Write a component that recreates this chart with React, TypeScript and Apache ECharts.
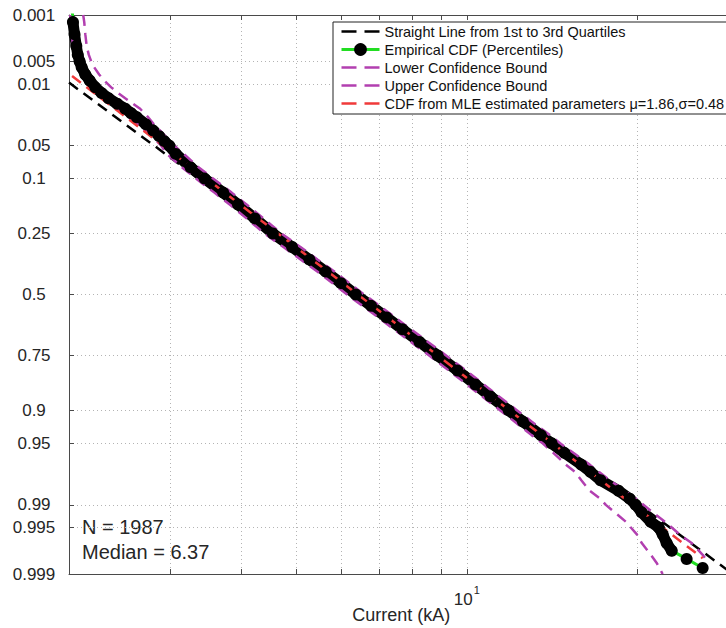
import React, { useEffect, useRef } from "react";
import * as echarts from "echarts";

// ---------------- data ----------------
const yTickProbs = [0.001, 0.005, 0.01, 0.05, 0.1, 0.25, 0.5, 0.75, 0.9, 0.95, 0.99, 0.995, 0.999];
const yTickLabels = ["0.001", "0.005", "0.01", "0.05", "0.1", "0.25", "0.5", "0.75", "0.9", "0.95", "0.99", "0.995", "0.999"];
const xGridCurrents = [3, 4, 5, 6, 7, 8, 9, 10, 20];
const xLabelCurrents = [10];
const xRange = [1.99, 29.5];

const empiricalProb = [0.00075, 0.0013, 0.002, 0.003, 0.004, 0.005, 0.006, 0.0075, 0.009, 0.011, 0.013, 0.015, 0.0175, 0.02, 0.0225, 0.025, 0.03, 0.035, 0.04, 0.045, 0.05, 0.06, 0.08, 0.1, 0.13, 0.16, 0.2, 0.25, 0.3, 0.35, 0.4, 0.45, 0.5, 0.55, 0.6, 0.65, 0.7, 0.75, 0.8, 0.84, 0.87, 0.9, 0.92, 0.94, 0.95, 0.96, 0.97, 0.975, 0.98, 0.985, 0.988, 0.99, 0.992, 0.994, 0.995, 0.996, 0.997, 0.99769, 0.99827, 0.99875];
const empiricalCurrent = [2.015, 2.022, 2.035, 2.05, 2.062, 2.078, 2.095, 2.126, 2.164, 2.214, 2.273, 2.336, 2.42, 2.5, 2.56, 2.62, 2.72, 2.8, 2.87, 2.93, 2.99, 3.07, 3.26, 3.45, 3.72, 3.95, 4.23, 4.55, 4.92, 5.28, 5.64, 6.0, 6.37, 6.78, 7.22, 7.7, 8.25, 8.88, 9.63, 10.35, 11.0, 11.85, 12.55, 13.5, 14.1, 14.85, 15.9, 16.5, 17.2, 18.5, 19.36, 19.84, 20.32, 21.08, 21.78, 22.13, 22.49, 22.96, 24.39, 26.03];

const lowerProb = [0.001, 0.0013, 0.002, 0.003, 0.004, 0.005, 0.006, 0.0075, 0.009, 0.011, 0.013, 0.015, 0.0175, 0.02, 0.0225, 0.025, 0.03, 0.035, 0.04, 0.045, 0.05, 0.06, 0.08, 0.1, 0.13, 0.16, 0.2, 0.25, 0.3, 0.35, 0.4, 0.45, 0.5, 0.55, 0.6, 0.65, 0.7, 0.75, 0.8, 0.84, 0.87, 0.9, 0.92, 0.94, 0.95, 0.96, 0.97, 0.975, 0.98, 0.985, 0.988, 0.99, 0.992, 0.994, 0.995, 0.996, 0.997, 0.998, 0.9985, 0.999];
const lowerCurrent = [2.0, 2.004, 2.01, 2.024, 2.041, 2.058, 2.074, 2.104, 2.134, 2.187, 2.236, 2.287, 2.342, 2.41, 2.47, 2.531, 2.63, 2.71, 2.78, 2.841, 2.893, 2.96, 3.15, 3.33, 3.59, 3.82, 4.09, 4.4, 4.75, 5.1, 5.45, 5.8, 6.15, 6.55, 6.98, 7.44, 7.97, 8.58, 9.3, 10.0, 10.63, 11.45, 12.13, 13.0, 13.6, 14.2, 14.94, 15.49, 15.91, 16.46, 17.18, 17.57, 18.22, 19.06, 19.45, 19.93, 20.33, 21.09, 21.6, 22.13];

const upperProb = [0.001, 0.0013, 0.002, 0.003, 0.004, 0.005, 0.006, 0.0075, 0.009, 0.011, 0.013, 0.015, 0.0175, 0.02, 0.0225, 0.025, 0.03, 0.035, 0.04, 0.045, 0.05, 0.06, 0.08, 0.1, 0.13, 0.16, 0.2, 0.25, 0.3, 0.35, 0.4, 0.45, 0.5, 0.55, 0.6, 0.65, 0.7, 0.75, 0.8, 0.84, 0.87, 0.9, 0.92, 0.94, 0.95, 0.96, 0.97, 0.975, 0.98, 0.985, 0.988, 0.99, 0.992, 0.994, 0.995, 0.996, 0.997, 0.998, 0.9985];
const upperCurrent = [2.108, 2.117, 2.126, 2.138, 2.156, 2.178, 2.204, 2.249, 2.296, 2.362, 2.43, 2.5, 2.582, 2.656, 2.7, 2.744, 2.81, 2.88, 2.94, 2.995, 3.05, 3.17, 3.37, 3.57, 3.85, 4.09, 4.38, 4.71, 5.09, 5.46, 5.84, 6.21, 6.59, 7.02, 7.47, 7.97, 8.54, 9.19, 9.97, 10.71, 11.39, 12.26, 13.0, 14.0, 14.6, 15.4, 16.46, 17.08, 17.86, 18.98, 19.84, 20.49, 21.26, 22.33, 22.96, 23.71, 24.89, 26.03, 26.67];

const quartileProb = [0.25, 0.75];
const quartileCurrent = [4.55, 8.88];
const mleMu = 1.86;
const mleSigma = 0.48;
const sampleSize = 1987;
const sampleMedian = 6.37;

const NAME_Q = "Straight Line from 1st to 3rd Quartiles";
const NAME_E = "Empirical CDF (Percentiles)";
const NAME_L = "Lower Confidence Bound";
const NAME_U = "Upper Confidence Bound";
const NAME_M = `CDF from MLE estimated parameters \u03bc=${mleMu.toFixed(2)},\u03c3=${mleSigma.toFixed(2)}`;

// ---------------- helpers ----------------
function norminv(p: number): number {
  const a = [-3.969683028665376e1, 2.209460984245205e2, -2.759285104469687e2, 1.38357751867269e2, -3.066479806614716e1, 2.506628277459239];
  const b = [-5.447609879822406e1, 1.615858368580409e2, -1.556989798598866e2, 6.680131188771972e1, -1.328068155288572e1];
  const c = [-7.784894002430293e-3, -3.223964580411365e-1, -2.400758277161838, -2.549732539343734, 4.374664141464968, 2.938163982698783];
  const d = [7.784695709041462e-3, 3.224671290700398e-1, 2.445134137142996, 3.754408661907416];
  const pl = 0.02425;
  if (p < pl) {
    const q = Math.sqrt(-2 * Math.log(p));
    return (((((c[0] * q + c[1]) * q + c[2]) * q + c[3]) * q + c[4]) * q + c[5]) / ((((d[0] * q + d[1]) * q + d[2]) * q + d[3]) * q + 1);
  }
  if (p <= 1 - pl) {
    const q = p - 0.5;
    const r = q * q;
    return ((((((a[0] * r + a[1]) * r + a[2]) * r + a[3]) * r + a[4]) * r + a[5]) * q) / (((((b[0] * r + b[1]) * r + b[2]) * r + b[3]) * r + b[4]) * r + 1);
  }
  const q = Math.sqrt(-2 * Math.log(1 - p));
  return -(((((c[0] * q + c[1]) * q + c[2]) * q + c[3]) * q + c[4]) * q + c[5]) / ((((d[0] * q + d[1]) * q + d[2]) * q + d[3]) * q + 1);
}
const pt = (cur: number, p: number) => [Math.log10(cur), norminv(p)];
const zip = (cs: number[], ps: number[]) => cs.map((c, i) => pt(c, ps[i]));

const FONT = "'Liberation Sans', Arial, Helvetica, sans-serif";
const AXIS_COLOR = "#4a4a4a";
const TEXT_COLOR = "#262626";
const GREEN = "#22dd22";
const MAGENTA = "#b23fb0";
const RED = "#f03a3a";
const DASH = [11, 7];

export default function App() {
  const ref = useRef<HTMLDivElement>(null);
  useEffect(() => {
    if (!ref.current) return;
    const chart = echarts.init(ref.current, undefined, { renderer: "svg" });

    const yTickVals = yTickProbs.map(norminv);
    const xGridVals = xGridCurrents.map((v) => Math.log10(v));
    const xLabelVals = xLabelCurrents.map((v) => Math.log10(v));
    const xMin = Math.log10(xRange[0]);
    const xMax = Math.log10(xRange[1]);

    const empData = zip(empiricalCurrent, empiricalProb);
    const bandEnd = empiricalProb.indexOf(0.99769);
    const bandData = empData.slice(1, bandEnd + 1);

    const q1 = pt(quartileCurrent[0], quartileProb[0]);
    const q3 = pt(quartileCurrent[1], quartileProb[1]);
    const slope = (q3[1] - q1[1]) / (q3[0] - q1[0]);
    const qLine = [xMin, xMax].map((lx) => [lx, q1[1] + slope * (lx - q1[0])]);

    const cMin = Math.min(...empiricalCurrent);
    const cMax = Math.max(...empiricalCurrent);
    const mleLine = [cMin, cMax].map((c) => [Math.log10(c), (Math.log(c) - mleMu) / mleSigma]);

    const dashedLegend = (color: string) => ({
      lineStyle: { type: [15, 8], width: 2.5, color },
      itemStyle: { opacity: 0 },
    });

    const option: any = {
      animation: false,
      backgroundColor: "#fff",
      textStyle: { fontFamily: FONT },
      grid: { left: 69, right: -7.5, top: 15, bottom: 54, outerBoundsMode: "none", containLabel: false },
      legend: {
        show: true,
        orient: "vertical",
        left: 333,
        top: 22,
        padding: [2, 10, 3, 7],
        itemWidth: 38,
        itemHeight: 16,
        itemGap: 3,
        selectedMode: false,
        backgroundColor: "#fff",
        borderColor: "#222",
        borderWidth: 1,
        borderRadius: 0,
        textStyle: { fontSize: 14.5, color: "#111", fontFamily: FONT },
        data: [
          { name: NAME_Q, ...dashedLegend("#000") },
          { name: NAME_E, lineStyle: { color: GREEN, width: 3, type: "solid" }, itemStyle: { color: "#000", opacity: 1 } },
          { name: NAME_L, ...dashedLegend(MAGENTA) },
          { name: NAME_U, ...dashedLegend(MAGENTA) },
          { name: NAME_M, ...dashedLegend(RED) },
        ],
      },
      xAxis: [
        {
          type: "value",
          position: "bottom",
          min: xMin,
          max: xMax,
          axisLine: { show: true, onZero: false, lineStyle: { color: AXIS_COLOR, width: 1 } },
          axisTick: { show: true, inside: true, length: 5, customValues: xGridVals, lineStyle: { color: AXIS_COLOR } },
          axisLabel: {
            show: true,
            customValues: xLabelVals,
            margin: 10,
            formatter: (v: number) => {
              const e = Math.round(v);
              return `{b|10}{s|${e}}`;
            },
            rich: {
              b: { fontSize: 17, color: TEXT_COLOR, fontFamily: FONT, lineHeight: 24, verticalAlign: "bottom" },
              s: { fontSize: 11, color: TEXT_COLOR, fontFamily: FONT, lineHeight: 12, verticalAlign: "top", padding: [0, 0, 0, 1] },
            },
          },
          splitLine: { show: true, lineStyle: { type: [1, 3], color: "#b4b4b4", width: 1 } },
          name: "Current (kA)",
          nameLocation: "middle",
          nameGap: 41,
          nameMoveOverlap: false,
          nameTextStyle: { fontSize: 18, color: TEXT_COLOR, fontFamily: FONT, verticalAlign: "middle" },
        },
        {
          type: "value",
          position: "top",
          min: xMin,
          max: xMax,
          axisLine: { show: true, onZero: false, lineStyle: { color: AXIS_COLOR, width: 1 } },
          axisTick: { show: true, inside: true, length: 5, customValues: xGridVals, lineStyle: { color: AXIS_COLOR } },
          axisLabel: { show: false },
          splitLine: { show: false },
        },
      ],
      yAxis: [
        {
          type: "value",
          min: yTickVals[0],
          max: yTickVals[yTickVals.length - 1],
          inverse: true,
          axisLine: { show: true, onZero: false, lineStyle: { color: AXIS_COLOR, width: 1 } },
          axisTick: { show: true, inside: true, length: 5, customValues: yTickVals, lineStyle: { color: AXIS_COLOR } },
          axisLabel: {
            show: true,
            customValues: yTickVals,
            align: "right",
            margin: 11,
            formatter: (v: number) => {
              let best = 0;
              for (let i = 1; i < yTickVals.length; i++) {
                if (Math.abs(yTickVals[i] - v) < Math.abs(yTickVals[best] - v)) best = i;
              }
              return `{c|${yTickLabels[best]}}`;
            },
            rich: {
              c: { width: 48, align: "center", fontSize: 17, color: TEXT_COLOR, fontFamily: FONT },
            },
          },
          splitLine: { show: true, lineStyle: { type: [1, 3], color: "#b4b4b4", width: 1 } },
        },
      ],
      series: [
        {
          name: NAME_Q,
          type: "line",
          data: qLine,
          symbol: "none",
          clip: true,
          lineStyle: { color: "#000", width: 2.5, type: DASH },
          itemStyle: { color: "#000" },
        },
        {
          name: NAME_E,
          type: "line",
          data: empData,
          symbol: "circle",
          symbolSize: 12,
          showSymbol: true,
          showAllSymbol: true,
          clip: true,
          lineStyle: { color: GREEN, width: 3 },
          itemStyle: { color: "#000", borderWidth: 0 },
        },
        {
          name: "__band",
          type: "line",
          data: bandData,
          symbol: "none",
          clip: true,
          lineStyle: { color: "#000", width: 11, cap: "round", join: "round" },
        },
        {
          name: NAME_L,
          type: "line",
          data: zip(lowerCurrent, lowerProb),
          symbol: "none",
          clip: true,
          lineStyle: { color: MAGENTA, width: 2.5, type: DASH },
          itemStyle: { color: MAGENTA },
        },
        {
          name: NAME_U,
          type: "line",
          data: zip(upperCurrent, upperProb),
          symbol: "none",
          clip: true,
          lineStyle: { color: MAGENTA, width: 2.5, type: DASH },
          itemStyle: { color: MAGENTA },
        },
        {
          name: NAME_M,
          type: "line",
          data: mleLine,
          symbol: "none",
          clip: true,
          lineStyle: { color: RED, width: 2.5, type: DASH },
          itemStyle: { color: RED },
        },
      ],
      graphic: [
        {
          type: "text",
          x: 82,
          y: 527,
          style: { text: `N = ${sampleSize}`, fontSize: 20, fill: TEXT_COLOR, fontFamily: FONT, verticalAlign: "middle" },
        },
        {
          type: "text",
          x: 82,
          y: 552,
          style: { text: `Median = ${sampleMedian.toFixed(2)}`, fontSize: 20, fill: TEXT_COLOR, fontFamily: FONT, verticalAlign: "middle" },
        },
      ],
    };
    chart.setOption(option);
    return () => chart.dispose();
  }, []);

  return (
    <div
      ref={ref}
      style={{ position: "fixed", left: 0, top: 0, width: 726, height: 628, background: "#fff" }}
    />
  );
}
